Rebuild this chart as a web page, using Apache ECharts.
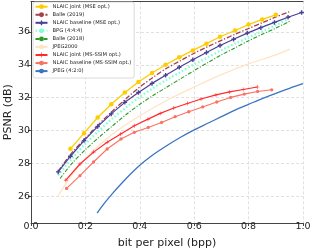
<!DOCTYPE html>
<html><head><meta charset="utf-8">
<script src="https://cdn.jsdelivr.net/npm/echarts@6/dist/echarts.min.js"></script>
<style>html,body{margin:0;padding:0;background:#fff}#c{width:313px;height:251px}</style>
</head><body><div id="c"></div>
<script>
// ---- data ----
const seriesNames = ['NLAIC joint (MSE opt.)','Balle (2019)','NLAIC baseline (MSE opt.)','BPG (4:4:4)','Balle (2018)','JPEG2000','NLAIC joint (MS-SSIM opt.)','NLAIC baseline (MS-SSIM opt.)','JPEG (4:2:0)'];
const jointMseX = [0.145,0.195,0.245,0.295,0.345,0.395,0.445,0.495,0.545,0.595,0.645,0.695,0.75,0.80,0.85,0.90];
const jointMseY = [28.9,29.85,30.8,31.6,32.32,32.95,33.5,34.0,34.45,34.87,35.28,35.7,36.08,36.44,36.75,37.03];
const balle19X = [0.10,0.15,0.20,0.25,0.30,0.35,0.40,0.45,0.50,0.55,0.60,0.65,0.70,0.75,0.80,0.85,0.90,0.955];
const balle19Y = [27.55,28.65,29.55,30.4,31.2,31.95,32.65,33.25,33.8,34.25,34.7,35.1,35.48,35.85,36.2,36.55,36.9,37.25];
const baseMseX = [0.10,0.145,0.195,0.245,0.295,0.345,0.395,0.445,0.495,0.545,0.595,0.645,0.695,0.745,0.795,0.845,0.895,0.945,0.995];
const baseMseY = [27.5,28.45,29.4,30.25,31.02,31.72,32.32,32.87,33.37,33.85,34.3,34.74,35.17,35.55,35.92,36.25,36.57,36.88,37.17];
const bpgX = [0.10,0.15,0.20,0.25,0.30,0.35,0.40,0.45,0.50,0.55,0.60,0.65,0.70,0.75,0.80,0.85,0.90,0.945];
const bpgY = [27.3,28.3,29.2,30.0,30.75,31.42,32.05,32.6,33.1,33.57,34.02,34.45,34.88,35.28,35.67,36.03,36.4,36.78];
const balle18X = [0.107,0.15,0.20,0.25,0.30,0.35,0.40,0.45,0.50,0.55,0.60,0.65,0.70,0.75,0.80,0.85,0.90,0.955];
const balle18Y = [27.1,28.0,28.85,29.6,30.3,30.98,31.6,32.15,32.65,33.15,33.65,34.13,34.6,35.03,35.45,35.85,36.22,36.67];
const j2kX = [0.098,0.15,0.20,0.25,0.30,0.40,0.50,0.60,0.70,0.80,0.90,0.952];
const j2kY = [26.0,27.3,28.3,29.1,29.8,30.9,31.85,32.65,33.4,34.05,34.6,34.95];
const jointSsimX = [0.128,0.18,0.23,0.28,0.33,0.38,0.43,0.475,0.525,0.575,0.625,0.68,0.73,0.78,0.832];
const jointSsimY = [27.0,27.98,28.7,29.3,29.8,30.3,30.7,31.05,31.38,31.65,31.92,32.17,32.35,32.5,32.65];
const baseSsimX = [0.131,0.18,0.23,0.28,0.331,0.38,0.431,0.48,0.53,0.58,0.631,0.683,0.734,0.784,0.833,0.885];
const baseSsimY = [26.5,27.27,28.1,28.89,29.5,29.9,30.2,30.5,30.85,31.15,31.44,31.74,32.02,32.22,32.38,32.48];
const jpegX = [0.243,0.27,0.30,0.35,0.40,0.45,0.50,0.55,0.60,0.65,0.70,0.75,0.80,0.85,0.90,0.95,1.0];
const jpegY = [25.0,25.6,26.2,27.1,27.9,28.55,29.1,29.6,30.05,30.45,30.85,31.25,31.6,31.95,32.27,32.57,32.85];
const xTicks = [0.0,0.2,0.4,0.6,0.8,1.0];
const yTicks = [26,28,30,32,34,36];

const zip = (xs, ys) => xs.map((x, i) => [x, ys[i]]);
const plusThick = 'path://M3.5,0H6.5V3.5H10V6.5H6.5V10H3.5V6.5H0V3.5H3.5Z';
const plusThin = 'path://M4.3,0H5.7V4.3H10V5.7H5.7V10H4.3V5.7H0V4.3H4.3Z';

function line(name, xs, ys, color, opts) {
  return Object.assign({
    name, type: 'line', data: zip(xs, ys),
    showSymbol: true, symbol: 'none', animation: false,
    lineStyle: { color, width: 1.3 },
    itemStyle: { color },
    emphasis: { disabled: true }
  }, opts);
}

const series = [
  line(seriesNames[0], jointMseX, jointMseY, '#ffcc00', { symbol: 'circle', symbolSize: 4.5, lineStyle: { color: '#ffcc00', width: 1.3 } }),
  line(seriesNames[1], balle19X, balle19Y, '#a3414b', { smooth: 0.3, lineStyle: { color: '#a3414b', width: 1.3, type: [5, 1.8, 1.3, 1.8] } }),
  line(seriesNames[2], baseMseX, baseMseY, '#4a3f98', { symbol: plusThick, symbolSize: 4.5, lineStyle: { color: '#4a3f98', width: 1.2 } }),
  line(seriesNames[3], bpgX, bpgY, '#7fffd4', { smooth: 0.3, lineStyle: { color: '#7fffd4', width: 2.3, type: [1.5, 2.2] } }),
  line(seriesNames[4], balle18X, balle18Y, '#2a9a2a', { smooth: 0.3, lineStyle: { color: '#2a9a2a', width: 1.1, type: [4, 1.6, 1.1, 1.6] } }),
  line(seriesNames[5], j2kX, j2kY, '#ffe4c4', { smooth: 0.3, lineStyle: { color: '#ffe4c4', width: 1.2 } }),
  line(seriesNames[6], jointSsimX, jointSsimY, '#ff2a2a', { symbol: plusThin, symbolSize: 4, lineStyle: { color: '#ff2a2a', width: 1.2 } }),
  line(seriesNames[7], baseSsimX, baseSsimY, '#fa7262', { symbol: 'circle', symbolSize: 3.3, lineStyle: { color: '#fa7262', width: 1.1 } }),
  line(seriesNames[8], jpegX, jpegY, '#3a74c2', { smooth: 0.3, lineStyle: { color: '#3a74c2', width: 1.3 } })
];

const font = 'DejaVu Sans';
const near = (arr, v) => arr.find(t => Math.abs(t - v) < 1e-6);
const chart = echarts.init(document.getElementById('c'), null, { renderer: 'canvas' });
chart.setOption({
  animation: false,
  backgroundColor: '#fff',
  grid: { left: 31, right: 10, top: 1.3, bottom: 28, containLabel: false, outerBoundsMode: 'none' },
  legend: {
    orient: 'vertical', left: 33, top: 2,
    data: seriesNames,
    itemWidth: 12, itemHeight: 6, itemGap: 2.05,
    padding: [1.7, 3, 3.9, 1.5],
    backgroundColor: '#fff', borderColor: '#d0d0d0', borderWidth: 0.8, borderRadius: 2,
    textStyle: { fontFamily: font, fontSize: 5.2, color: '#222', lineHeight: 6 },
    selectedMode: false
  },
  xAxis: [{
    type: 'value', min: 0, max: 1, interval: 0.2,
    name: 'bit per pixel (bpp)', nameLocation: 'middle', nameGap: 15, nameMoveOverlap: false,
    nameTextStyle: { fontFamily: font, fontSize: 11, color: '#222' },
    axisLine: { show: true, lineStyle: { color: '#444', width: 1 } },
    axisTick: { show: true, length: 3, lineStyle: { color: '#444' } },
    axisLabel: { fontFamily: font, fontSize: 9.5, color: '#262626', margin: -1,
      formatter: v => { const t = near(xTicks, v); return t === undefined ? '' : t.toFixed(1); } },
    splitLine: { show: true, lineStyle: { color: '#d9d9d9', width: 0.8, type: [3, 2] } }
  }, {
    type: 'value', position: 'top', min: 0, max: 1,
    axisLine: { show: true, lineStyle: { color: '#444', width: 1 } },
    axisTick: { show: false }, axisLabel: { show: false }, splitLine: { show: false }
  }],
  yAxis: {
    type: 'value', min: 24.4, max: 37.85, splitNumber: 7,
    name: 'PSNR (dB)', nameLocation: 'middle', nameGap: 17, nameRotate: 90, nameMoveOverlap: false,
    nameTextStyle: { fontFamily: font, fontSize: 11, color: '#222' },
    axisLine: { show: true, lineStyle: { color: '#444', width: 1 } },
    axisTick: { show: true, length: 3, lineStyle: { color: '#444' }, customValues: yTicks },
    axisLabel: { fontFamily: font, fontSize: 9.5, color: '#262626', margin: 1, customValues: yTicks,
      formatter: v => { const t = near(yTicks, v); return t === undefined ? '' : String(t); } },
    splitLine: { show: true, lineStyle: { color: '#d9d9d9', width: 0.8, type: [3, 2] } }
  },
  series
});
</script>
</body></html>
